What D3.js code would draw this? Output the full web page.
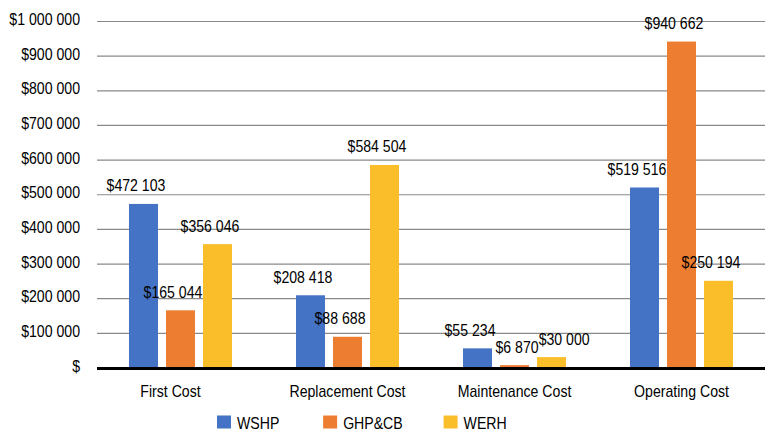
<!DOCTYPE html>
<html>
<head>
<meta charset="utf-8">
<script src="https://cdn.jsdelivr.net/npm/d3@7"></script>
<style>
  body { margin: 0; background: #fff; }
  text { font-family: "Liberation Sans Narrow", "Arial Narrow", "Liberation Sans", sans-serif; fill: #000; }
</style>
</head>
<body>
<div id="chart"></div>
<script>
// categories, series and values
var categories = ["First Cost", "Replacement Cost", "Maintenance Cost", "Operating Cost"];
var seriesNames = ["WSHP", "GHP&CB", "WERH"];
var wshp = [472103, 208418, 55234, 519516];
var ghpcb = [165044, 88688, 6870, 940662];
var werh = [356046, 584504, 30000, 250194];
var yTicks = [0, 100000, 200000, 300000, 400000, 500000, 600000, 700000, 800000, 900000, 1000000];
var colors = ["#4472C4", "#ED7D31", "#FBBE2B"];

var svgWidth = 770;
var svgHeight = 434;

var margin = { top: 21, right: 5, bottom: 66.5, left: 97 };
var chartWidth = svgWidth - margin.left - margin.right;
var chartHeight = svgHeight - margin.top - margin.bottom;

var svg = d3.select("#chart").append("svg")
    .attr("width", svgWidth)
    .attr("height", svgHeight);

var chartGroup = svg.append("g")
    .attr("transform", `translate(${margin.left}, ${margin.top})`);

// build rows for the bars
var allSeries = [wshp, ghpcb, werh];
var rows = categories.map(function(c, i) {
    return { cat: c, vals: seriesNames.map(function(s, j) { return { name: s, idx: j, value: allSeries[j][i] }; }) };
});

// scales
var x0 = d3.scaleBand()
    .domain(categories)
    .range([0, chartWidth]);

var x1 = d3.scaleBand()
    .domain(seriesNames)
    .range([32, 135])
    .paddingInner(0.216);

var yScale = d3.scaleLinear()
    .domain([0, 1000000])
    .range([chartHeight, 0]);

var fmt = function(v) {
    if (v === 0) return "$";
    return "$" + d3.format(",")(v).replace(/,/g, " ");
};

var squeeze = 0.83;

// narrow look: squeeze the text since no condensed font is installed
function narrow(sel) {
    sel.each(function() {
        var len = this.getComputedTextLength();
        d3.select(this)
            .attr("textLength", len * squeeze)
            .attr("lengthAdjust", "spacingAndGlyphs");
    });
}

// y axis with gridlines
var leftAxis = d3.axisLeft(yScale)
    .tickValues(yTicks)
    .tickSize(-chartWidth)
    .tickFormat(fmt);

var yAxis = chartGroup.append("g").call(leftAxis);
yAxis.select(".domain").remove();
yAxis.selectAll("line").attr("stroke", "#8a8a8a").attr("stroke-width", 1.2);
yAxis.selectAll("text")
    .attr("x", -17)
    .attr("dy", "0.21em")
    .style("font-size", "17px")
    .call(narrow);

// bars
var groups = chartGroup.selectAll(".cat")
    .data(rows)
    .enter()
    .append("g")
    .attr("transform", d => `translate(${x0(d.cat)},0)`);

groups.selectAll("rect")
    .data(d => d.vals)
    .enter()
    .append("rect")
    .attr("x", d => x1(d.name))
    .attr("y", d => yScale(d.value))
    .attr("width", x1.bandwidth())
    .attr("height", d => chartHeight - yScale(d.value))
    .attr("fill", d => colors[d.idx]);

// data labels
groups.each(function() {
    var prev = null;
    d3.select(this).selectAll(".lbl")
        .data(d => d.vals)
        .enter()
        .append("text")
        .attr("class", "lbl")
        .attr("x", d => x1(d.name) + x1.bandwidth() / 2 - 7.5)
        .attr("y", d => yScale(d.value) - 12.5)
        .attr("text-anchor", "middle")
        .style("font-size", "17px")
        .text(d => fmt(d.value))
        .call(narrow)
        .each(function() {
            // push a label right if it runs into the one before it
            var w = this.getComputedTextLength() * squeeze;
            var cx = +this.getAttribute("x");
            var by = +this.getAttribute("y");
            var box = { l: cx - w / 2, r: cx + w / 2, t: by - 16, b: by + 4 };
            if (prev && box.l < prev.r && box.t < prev.b && box.b > prev.t) {
                var shift = prev.r + 8 - box.l;
                cx += shift;
                box.l += shift; box.r += shift;
                d3.select(this).attr("x", cx);
            }
            prev = box;
        });
});

// baseline
chartGroup.append("line")
    .attr("x1", 0)
    .attr("x2", chartWidth)
    .attr("y1", yScale(0) + 1)
    .attr("y2", yScale(0) + 1)
    .attr("stroke", "#000")
    .attr("stroke-width", 3);

// category axis
var bottomAxis = d3.axisBottom(x0).tickSize(0);
var xAxis = chartGroup.append("g")
    .attr("transform", `translate(0, ${chartHeight})`)
    .call(bottomAxis);
xAxis.select(".domain").remove();
xAxis.selectAll("text")
    .attr("y", 29)
    .attr("dy", 0)
    .style("font-size", "17px")
    .call(narrow);
// first label sits a little left of its group in the original
xAxis.selectAll("text").filter(d => d === categories[0]).attr("x", -10);

// legend
var legend = svg.append("g").attr("transform", "translate(217, 415.5)");
var lx = 0;
seriesNames.forEach(function(s, i) {
    var item = legend.append("g").attr("transform", `translate(${lx},0)`);
    item.append("rect")
        .attr("width", 14)
        .attr("height", 13)
        .attr("fill", colors[i]);
    var t = item.append("text")
        .attr("x", 20)
        .attr("y", 13.8)
        .style("font-size", "17px")
        .text(s)
        .call(narrow);
    lx += 20 + t.node().getComputedTextLength() * squeeze + 51;
});
</script>
</body>
</html>
